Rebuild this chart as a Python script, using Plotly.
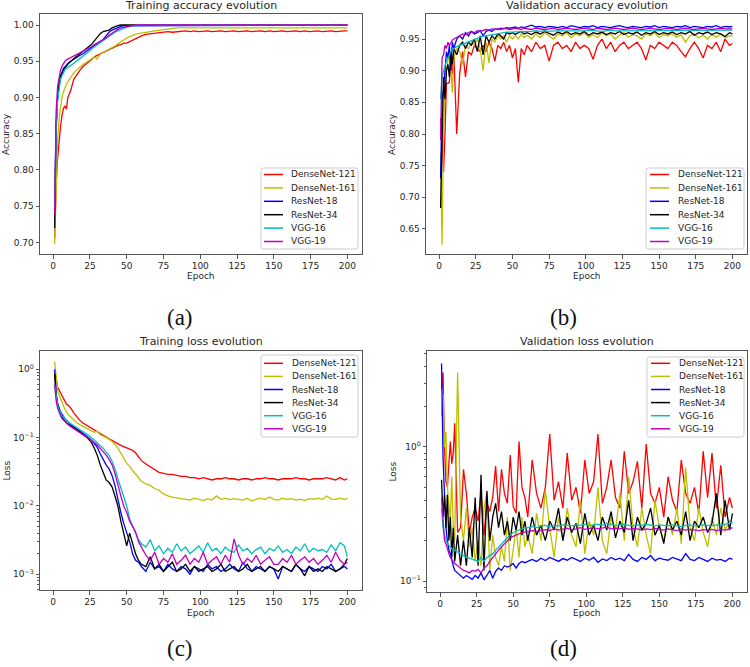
import plotly.graph_objects as go

# ---------------- data ----------------
EPOCHS = list(range(1, 11)) + list(range(12, 61, 2)) + list(range(63, 199, 3)) + [200]
MODELS = ["DenseNet-121", "DenseNet-161", "ResNet-18", "ResNet-34", "VGG-16", "VGG-19"]
COLORS = ["#ff0000", "#bfbf00", "#0000ff", "#000000", "#00bfbf", "#bf00bf"]
X_TICKS = [0, 25, 50, 75, 100, 125, 150, 175, 200]

# (a) training accuracy
TA_D121 = [0.705, 0.78, 0.815, 0.84, 0.86, 0.875, 0.885, 0.888, 0.884, 0.90,
           0.91, 0.925, 0.932, 0.937, 0.942, 0.946, 0.949, 0.952, 0.956, 0.958,
           0.960, 0.963, 0.965, 0.967, 0.968, 0.970, 0.972, 0.973, 0.975, 0.975,
           0.977, 0.979, 0.981, 0.984, 0.985,
           0.987, 0.988, 0.989, 0.989, 0.990, 0.991, 0.990, 0.991, 0.991, 0.992,
           0.991, 0.992, 0.991, 0.992, 0.992, 0.991, 0.992, 0.992, 0.991, 0.992,
           0.992, 0.991, 0.992, 0.992, 0.991, 0.992, 0.992, 0.991, 0.992, 0.991,
           0.992, 0.992, 0.991, 0.992, 0.992, 0.991, 0.992, 0.991, 0.992, 0.992,
           0.991, 0.992, 0.992, 0.991, 0.992, 0.992,
           0.992]
TA_D161 = [0.698, 0.78, 0.84, 0.87, 0.888, 0.90, 0.908, 0.914, 0.918, 0.922,
           0.928, 0.934, 0.938, 0.942, 0.945, 0.948, 0.950, 0.953, 0.956, 0.953,
           0.960, 0.962, 0.964, 0.966, 0.968, 0.971, 0.974, 0.977, 0.980, 0.982,
           0.984, 0.986, 0.987, 0.988, 0.989,
           0.990, 0.991, 0.992, 0.993, 0.994, 0.995, 0.995, 0.996, 0.996, 0.996,
           0.996, 0.996, 0.996, 0.996, 0.996, 0.996, 0.996, 0.996, 0.996, 0.996,
           0.996, 0.996, 0.996, 0.996, 0.996, 0.996, 0.996, 0.996, 0.996, 0.996,
           0.996, 0.996, 0.996, 0.996, 0.996, 0.996, 0.996, 0.996, 0.996, 0.996,
           0.996, 0.996, 0.996, 0.996, 0.996, 0.996,
           0.996]
TA_R18 = [0.75, 0.86, 0.90, 0.92, 0.93, 0.935, 0.94, 0.942, 0.945, 0.947,
          0.950, 0.953, 0.956, 0.958, 0.960, 0.963, 0.966, 0.968, 0.971, 0.974,
          0.977, 0.980, 0.985, 0.990, 0.993, 0.995, 0.997, 0.998, 0.999, 0.999,
          1.0, 1.0, 1.0, 1.0, 1.0,
          1.0, 1.0, 1.0, 1.0, 1.0, 1.0, 1.0, 1.0, 1.0, 1.0,
          1.0, 1.0, 1.0, 1.0, 1.0, 1.0, 1.0, 1.0, 1.0, 1.0,
          1.0, 1.0, 1.0, 1.0, 1.0, 1.0, 1.0, 1.0, 1.0, 1.0,
          1.0, 1.0, 1.0, 1.0, 1.0, 1.0, 1.0, 1.0, 1.0, 1.0,
          1.0, 1.0, 1.0, 1.0, 1.0, 1.0,
          1.0]
TA_R34 = [0.72, 0.86, 0.90, 0.92, 0.928, 0.934, 0.938, 0.941, 0.944, 0.946,
          0.950, 0.954, 0.957, 0.960, 0.963, 0.966, 0.969, 0.973, 0.978, 0.983,
          0.988, 0.991, 0.992, 0.993, 0.996, 0.998, 0.999, 1.0, 1.0, 1.0,
          1.0, 1.0, 1.0, 1.0, 1.0,
          1.0, 1.0, 1.0, 1.0, 1.0, 1.0, 1.0, 1.0, 1.0, 1.0,
          1.0, 1.0, 1.0, 1.0, 1.0, 1.0, 1.0, 1.0, 1.0, 1.0,
          1.0, 1.0, 1.0, 1.0, 1.0, 1.0, 1.0, 1.0, 1.0, 1.0,
          1.0, 1.0, 1.0, 1.0, 1.0, 1.0, 1.0, 1.0, 1.0, 1.0,
          1.0, 1.0, 1.0, 1.0, 1.0, 1.0,
          1.0]
TA_V16 = [0.75, 0.85, 0.895, 0.915, 0.925, 0.93, 0.935, 0.938, 0.94, 0.942,
          0.944, 0.947, 0.950, 0.953, 0.956, 0.960, 0.963, 0.967, 0.970, 0.973,
          0.976, 0.979, 0.982, 0.985, 0.988, 0.990, 0.992, 0.994, 0.996, 0.997,
          0.998, 0.999, 0.999, 1.0, 1.0,
          1.0, 1.0, 1.0, 1.0, 1.0, 1.0, 1.0, 1.0, 1.0, 1.0,
          1.0, 1.0, 1.0, 1.0, 1.0, 1.0, 1.0, 1.0, 1.0, 1.0,
          1.0, 1.0, 1.0, 1.0, 1.0, 1.0, 1.0, 1.0, 1.0, 1.0,
          1.0, 1.0, 1.0, 1.0, 1.0, 1.0, 1.0, 1.0, 1.0, 1.0,
          1.0, 1.0, 1.0, 1.0, 1.0, 1.0,
          1.0]
TA_V19 = [0.74, 0.88, 0.915, 0.93, 0.938, 0.943, 0.947, 0.95, 0.952, 0.953,
          0.955, 0.958, 0.960, 0.962, 0.963, 0.965, 0.967, 0.970, 0.973, 0.975,
          0.977, 0.979, 0.982, 0.986, 0.989, 0.992, 0.994, 0.996, 0.997, 0.998,
          0.999, 0.999, 1.0, 1.0, 1.0,
          1.0, 1.0, 1.0, 1.0, 1.0, 1.0, 1.0, 1.0, 1.0, 1.0,
          1.0, 1.0, 1.0, 1.0, 1.0, 1.0, 1.0, 1.0, 1.0, 1.0,
          1.0, 1.0, 1.0, 1.0, 1.0, 1.0, 1.0, 1.0, 1.0, 1.0,
          1.0, 1.0, 1.0, 1.0, 1.0, 1.0, 1.0, 1.0, 1.0, 1.0,
          1.0, 1.0, 1.0, 1.0, 1.0, 1.0,
          1.0]

# (b) validation accuracy
VA_D121 = [0.825, 0.79, 0.74, 0.80, 0.88, 0.88, 0.882, 0.92, 0.895, 0.93,
           0.80, 0.895, 0.93, 0.89, 0.93, 0.925, 0.94, 0.935, 0.93, 0.94,
           0.93, 0.945, 0.935, 0.915, 0.94, 0.935, 0.945, 0.93, 0.94, 0.92,
           0.935, 0.882, 0.935, 0.925, 0.94,
           0.93, 0.945, 0.935, 0.94, 0.915, 0.94, 0.945, 0.935, 0.94, 0.93,
           0.945, 0.935, 0.94, 0.935, 0.918, 0.94, 0.95, 0.935, 0.945, 0.93,
           0.94, 0.945, 0.935, 0.94, 0.945, 0.935, 0.917, 0.94, 0.935, 0.945,
           0.94, 0.935, 0.945, 0.94, 0.93, 0.922, 0.935, 0.945, 0.935, 0.92,
           0.94, 0.935, 0.945, 0.93, 0.95, 0.94,
           0.943]
VA_D161 = [0.77, 0.625, 0.80, 0.87, 0.90, 0.92, 0.93, 0.91, 0.865, 0.92,
           0.935, 0.93, 0.91, 0.94, 0.935, 0.945, 0.94, 0.95, 0.935, 0.90,
           0.945, 0.912, 0.95, 0.945, 0.955, 0.95, 0.955, 0.945, 0.955, 0.95,
           0.955, 0.95, 0.958, 0.952, 0.956,
           0.95, 0.958, 0.952, 0.96, 0.955, 0.95, 0.958, 0.955, 0.96, 0.952,
           0.958, 0.955, 0.96, 0.953, 0.957, 0.952, 0.96, 0.955, 0.958, 0.95,
           0.956, 0.96, 0.953, 0.957, 0.955, 0.95, 0.958, 0.955, 0.96, 0.952,
           0.957, 0.955, 0.958, 0.953, 0.957, 0.945, 0.955, 0.958, 0.952, 0.956,
           0.95, 0.957, 0.953, 0.958, 0.952, 0.955,
           0.955]
VA_R18 = [0.73, 0.855, 0.87, 0.90, 0.93, 0.92, 0.94, 0.90, 0.945, 0.935,
          0.95, 0.955, 0.95, 0.96, 0.955, 0.962, 0.958, 0.96, 0.963, 0.955,
          0.962, 0.964, 0.962, 0.966, 0.965, 0.967, 0.966, 0.968, 0.967, 0.968,
          0.969, 0.967, 0.969, 0.968, 0.970,
          0.972, 0.969, 0.970, 0.968, 0.970, 0.969, 0.968, 0.970, 0.968, 0.971,
          0.969, 0.968, 0.970, 0.969, 0.971, 0.968, 0.970, 0.969, 0.968, 0.970,
          0.971, 0.969, 0.968, 0.970, 0.969, 0.968, 0.970, 0.969, 0.971, 0.968,
          0.970, 0.969, 0.968, 0.970, 0.969, 0.971, 0.968, 0.970, 0.969, 0.968,
          0.970, 0.969, 0.971, 0.968, 0.970, 0.969,
          0.970]
VA_R34 = [0.683, 0.79, 0.89, 0.855, 0.90, 0.91, 0.89, 0.93, 0.91, 0.935,
          0.925, 0.94, 0.945, 0.935, 0.945, 0.94, 0.95, 0.93, 0.955, 0.925,
          0.955, 0.945, 0.955, 0.95, 0.958, 0.955, 0.95, 0.96, 0.958, 0.96,
          0.957, 0.96, 0.962, 0.958, 0.96,
          0.957, 0.961, 0.958, 0.962, 0.959, 0.956, 0.961, 0.958, 0.962, 0.957,
          0.96, 0.958, 0.962, 0.956, 0.96, 0.958, 0.961, 0.957, 0.96, 0.958,
          0.962, 0.957, 0.96, 0.958, 0.961, 0.956, 0.96, 0.958, 0.962, 0.957,
          0.96, 0.958, 0.961, 0.957, 0.96, 0.958, 0.962, 0.956, 0.96, 0.958,
          0.961, 0.957, 0.96, 0.958, 0.954, 0.96,
          0.958]
VA_V16 = [0.855, 0.89, 0.90, 0.91, 0.915, 0.92, 0.925, 0.93, 0.932, 0.935,
          0.938, 0.94, 0.942, 0.944, 0.946, 0.948, 0.95, 0.952, 0.953, 0.954,
          0.955, 0.956, 0.957, 0.958, 0.959, 0.96, 0.96, 0.961, 0.961, 0.961,
          0.962, 0.961, 0.962, 0.962, 0.962,
          0.962, 0.963, 0.962, 0.963, 0.962, 0.963, 0.963, 0.962, 0.963, 0.963,
          0.962, 0.963, 0.963, 0.964, 0.963, 0.963, 0.962, 0.963, 0.964, 0.963,
          0.963, 0.964, 0.963, 0.963, 0.964, 0.963, 0.963, 0.964, 0.963, 0.964,
          0.963, 0.964, 0.964, 0.963, 0.964, 0.963, 0.964, 0.964, 0.963, 0.964,
          0.964, 0.963, 0.964, 0.964, 0.963, 0.964,
          0.964]
VA_V19 = [0.79, 0.92, 0.925, 0.94, 0.935, 0.945, 0.94, 0.945, 0.948, 0.95,
          0.952, 0.955, 0.958, 0.957, 0.96, 0.962, 0.96, 0.963, 0.962, 0.964,
          0.965, 0.964, 0.966, 0.965, 0.966, 0.965, 0.967, 0.966, 0.965, 0.966,
          0.967, 0.966, 0.965, 0.967, 0.966,
          0.965, 0.967, 0.966, 0.965, 0.966, 0.967, 0.965, 0.966, 0.967, 0.966,
          0.965, 0.966, 0.967, 0.966, 0.965, 0.967, 0.966, 0.965, 0.966, 0.967,
          0.966, 0.965, 0.966, 0.967, 0.966, 0.965, 0.966, 0.967, 0.966, 0.965,
          0.966, 0.967, 0.966, 0.965, 0.966, 0.967, 0.966, 0.965, 0.966, 0.967,
          0.966, 0.965, 0.966, 0.967, 0.966, 0.966,
          0.966]

# (c) training loss
TL_D121 = [0.9, 0.75, 0.55, 0.5, 0.45, 0.4, 0.36, 0.33, 0.31, 0.30,
           0.27, 0.23, 0.2, 0.18, 0.165, 0.155, 0.145, 0.135, 0.128, 0.12,
           0.114, 0.108, 0.102, 0.096, 0.09, 0.085, 0.081, 0.077, 0.074, 0.071,
           0.068, 0.065, 0.06, 0.052, 0.046,
           0.041, 0.037, 0.034, 0.031, 0.03, 0.029, 0.029, 0.028, 0.027, 0.027,
           0.026, 0.026, 0.025, 0.026, 0.025, 0.024, 0.025, 0.025, 0.026, 0.025,
           0.025, 0.024, 0.025, 0.025, 0.024, 0.025, 0.025, 0.026, 0.025, 0.025,
           0.024, 0.025, 0.025, 0.025, 0.026, 0.025, 0.025, 0.024, 0.025, 0.025,
           0.025, 0.026, 0.025, 0.024, 0.026, 0.024,
           0.025]
TL_D161 = [1.3, 0.7, 0.5, 0.42, 0.37, 0.32, 0.28, 0.26, 0.24, 0.22,
           0.2, 0.18, 0.165, 0.155, 0.148, 0.14, 0.133, 0.125, 0.12, 0.125,
           0.11, 0.105, 0.1, 0.095, 0.088, 0.08, 0.07, 0.06, 0.05, 0.042,
           0.038, 0.033, 0.029, 0.026, 0.023,
           0.021, 0.02, 0.018, 0.017, 0.015, 0.014, 0.0135, 0.013, 0.0128, 0.0125,
           0.0122, 0.013, 0.0125, 0.012, 0.0128, 0.0122, 0.014, 0.0125, 0.013, 0.0124,
           0.0128, 0.0125, 0.0122, 0.013, 0.0118, 0.0125, 0.013, 0.0124, 0.0135, 0.0125,
           0.0122, 0.013, 0.0125, 0.0128, 0.0122, 0.0126, 0.012, 0.0128, 0.0125, 0.013,
           0.0124, 0.014, 0.0126, 0.0125, 0.013, 0.0124,
           0.013]
TL_R18 = [1.0, 0.45, 0.32, 0.27, 0.24, 0.22, 0.2, 0.19, 0.18, 0.17,
          0.155, 0.145, 0.135, 0.125, 0.118, 0.11, 0.1, 0.092, 0.082, 0.072,
          0.058, 0.048, 0.04, 0.035, 0.028, 0.02, 0.012, 0.008, 0.0055, 0.004,
          0.003, 0.002, 0.0016, 0.0015, 0.0013,
          0.0011, 0.0015, 0.0012, 0.0013, 0.0011, 0.0014, 0.0012, 0.0011, 0.0013, 0.0012,
          0.001, 0.0013, 0.0012, 0.0011, 0.0014, 0.0012, 0.0013, 0.0011, 0.0012, 0.0014,
          0.0012, 0.0011, 0.0015, 0.0012, 0.0011, 0.0013, 0.0012, 0.0011, 0.0013, 0.0012,
          0.00085, 0.0013, 0.0012, 0.0011, 0.0014, 0.0012, 0.0011, 0.0013, 0.0012, 0.0011,
          0.0013, 0.0012, 0.0014, 0.0011, 0.0012, 0.0013,
          0.0012]
TL_R34 = [0.85, 0.42, 0.3, 0.25, 0.22, 0.2, 0.19, 0.175, 0.165, 0.16,
          0.15, 0.14, 0.13, 0.122, 0.112, 0.105, 0.095, 0.085, 0.07, 0.055,
          0.04, 0.03, 0.024, 0.022, 0.019, 0.014, 0.01, 0.006, 0.004, 0.0026,
          0.004, 0.0028, 0.002, 0.0016, 0.0014,
          0.0013, 0.0018, 0.0012, 0.0014, 0.0011, 0.0013, 0.0015, 0.0011, 0.0012, 0.0014,
          0.0011, 0.0013, 0.0011, 0.0012, 0.0013, 0.0011, 0.0012, 0.0014, 0.0011, 0.0012,
          0.0013, 0.0011, 0.0012, 0.0014, 0.0011, 0.0012, 0.0013, 0.0011, 0.0013, 0.0012,
          0.0011, 0.0013, 0.0012, 0.0011, 0.0014, 0.0012, 0.00095, 0.0013, 0.0011, 0.0012,
          0.0011, 0.0013, 0.0012, 0.0011, 0.0012, 0.0014,
          0.0017]
TL_V16 = [0.6, 0.4, 0.3, 0.26, 0.23, 0.21, 0.2, 0.185, 0.175, 0.17,
          0.16, 0.15, 0.14, 0.13, 0.122, 0.115, 0.108, 0.1, 0.092, 0.085,
          0.078, 0.07, 0.062, 0.055, 0.045, 0.035, 0.025, 0.018, 0.014, 0.01,
          0.0065, 0.005, 0.004, 0.0032, 0.0028,
          0.0025, 0.0032, 0.0022, 0.0026, 0.002, 0.0024, 0.0021, 0.0028, 0.0022, 0.0025,
          0.002, 0.0023, 0.0026, 0.0021, 0.0029, 0.0022, 0.0024, 0.002, 0.0025, 0.0022,
          0.0021, 0.0027, 0.0022, 0.0024, 0.002, 0.0023, 0.0025, 0.002, 0.0024, 0.0022,
          0.0026, 0.0021, 0.0023, 0.002, 0.0025, 0.0022, 0.0028, 0.0021, 0.0024, 0.0022,
          0.0023, 0.0021, 0.0027, 0.0022, 0.0029, 0.0026,
          0.0018]
TL_V19 = [0.6, 0.35, 0.27, 0.23, 0.21, 0.19, 0.18, 0.17, 0.16, 0.155,
          0.145, 0.135, 0.125, 0.118, 0.11, 0.104, 0.098, 0.092, 0.085, 0.078,
          0.07, 0.062, 0.056, 0.048, 0.04, 0.03, 0.02, 0.014, 0.01, 0.008,
          0.006, 0.005, 0.0042, 0.003, 0.0025,
          0.0019, 0.0016, 0.0021, 0.0014, 0.0017, 0.0015, 0.002, 0.0014, 0.0016, 0.0019,
          0.0014, 0.0017, 0.0015, 0.0021, 0.0014, 0.0016, 0.0018, 0.0014, 0.0019, 0.0015,
          0.0033, 0.0019, 0.0014, 0.0017, 0.0015, 0.0019, 0.0014, 0.0016, 0.0018, 0.0014,
          0.0014, 0.0017, 0.0015, 0.0019, 0.0014, 0.0016, 0.0018, 0.0015, 0.0017, 0.0014,
          0.0016, 0.0019, 0.0015, 0.0021, 0.0016, 0.0014,
          0.0015]

# (d) validation loss
VL_D121 = [2.7, 3.6, 1.0, 0.55, 0.5, 0.8, 1.1, 0.75, 0.9, 1.5,
           0.23, 0.25, 0.68, 0.45, 0.23, 0.3, 0.35, 0.28, 0.46, 0.22,
           0.38, 0.33, 0.42, 0.72, 0.33, 0.68, 0.45, 0.38, 0.87, 0.36,
           0.32, 1.1, 0.5, 0.42, 0.3,
           0.8, 0.45, 0.35, 0.5, 1.25, 0.4, 0.55, 0.35, 0.9, 0.4,
           0.5, 0.32, 0.8, 0.45, 0.55, 1.25, 0.38, 0.5, 0.8, 0.42,
           0.35, 0.93, 0.45, 0.55, 0.78, 0.35, 1.05, 0.45, 0.38, 0.5,
           0.3, 0.6, 0.4, 0.33, 0.8, 0.45, 0.38, 0.5, 0.32, 0.93,
           0.42, 0.9, 0.35, 0.73, 0.3, 0.42,
           0.35]
VL_D161 = [1.7, 2.5, 1.0, 1.3, 0.5, 0.35, 0.28, 0.6, 0.25, 0.2,
           3.6, 0.3, 0.2, 0.35, 0.18, 0.25, 0.14, 0.2, 0.13, 0.35,
           0.45, 0.12, 0.22, 0.15, 0.13, 0.18, 0.14, 0.3, 0.12, 0.17,
           0.25, 0.15, 0.3, 0.18, 0.22,
           0.16, 0.32, 0.2, 0.48, 0.25, 0.15, 0.3, 0.2, 0.35, 0.22,
           0.18, 0.4, 0.16, 0.28, 0.22, 0.5, 0.2, 0.16, 0.3, 0.24,
           0.45, 0.2, 0.6, 0.25, 0.18, 0.35, 0.22, 0.16, 0.4, 0.25,
           0.2, 0.3, 0.22, 0.35, 0.19, 0.7, 0.25, 0.2, 0.35, 0.23,
           0.18, 0.3, 0.22, 0.35, 0.24, 0.28,
           0.27]
VL_R18 = [4.2, 0.85, 0.45, 0.25, 0.2, 0.17, 0.16, 0.14, 0.13, 0.12,
          0.115, 0.11, 0.105, 0.11, 0.107, 0.103, 0.11, 0.105, 0.115, 0.102,
          0.11, 0.12, 0.105, 0.118, 0.125, 0.12, 0.13, 0.127, 0.13, 0.135,
          0.125, 0.135, 0.14, 0.137, 0.14,
          0.145, 0.14, 0.148, 0.142, 0.15, 0.145, 0.14, 0.147, 0.143, 0.15,
          0.145, 0.14, 0.148, 0.143, 0.15, 0.138, 0.146, 0.142, 0.15, 0.144,
          0.148, 0.142, 0.158, 0.145, 0.14, 0.15, 0.145, 0.155, 0.142, 0.148,
          0.145, 0.143, 0.15, 0.146, 0.142, 0.16, 0.145, 0.142, 0.15, 0.145,
          0.14, 0.148, 0.143, 0.145, 0.14, 0.148,
          0.145]
VL_R34 = [0.57, 0.3, 0.44, 0.25, 0.44, 0.2, 0.3, 0.15, 0.25, 0.14,
          0.22, 0.13, 0.2, 0.13, 0.25, 0.15, 0.42, 0.13, 0.62, 0.12,
          0.47, 0.2, 0.3, 0.38, 0.25, 0.33, 0.22, 0.28, 0.2, 0.3,
          0.24, 0.33, 0.22, 0.28, 0.2,
          0.3, 0.22, 0.26, 0.2, 0.28, 0.24, 0.35, 0.2, 0.3, 0.23,
          0.27, 0.19, 0.32, 0.22, 0.26, 0.2, 0.3, 0.24, 0.33, 0.21,
          0.28, 0.23, 0.4, 0.2, 0.3, 0.24, 0.27, 0.35, 0.22, 0.26,
          0.19, 0.3, 0.24, 0.28, 0.22, 0.33, 0.2, 0.28, 0.25, 0.3,
          0.23, 0.27, 0.45, 0.22, 0.4, 0.24,
          0.32]
VL_V16 = [0.35, 0.25, 0.22, 0.2, 0.19, 0.185, 0.18, 0.175, 0.17, 0.17,
          0.165, 0.16, 0.155, 0.15, 0.148, 0.145, 0.143, 0.14, 0.15, 0.14,
          0.15, 0.155, 0.16, 0.17, 0.18, 0.19, 0.2, 0.21, 0.22, 0.23,
          0.235, 0.24, 0.245, 0.25, 0.25,
          0.255, 0.25, 0.258, 0.26, 0.255, 0.26, 0.258, 0.262, 0.26, 0.258,
          0.262, 0.26, 0.265, 0.258, 0.262, 0.265, 0.26, 0.27, 0.265, 0.26,
          0.262, 0.265, 0.26, 0.258, 0.262, 0.26, 0.265, 0.262, 0.258, 0.262,
          0.26, 0.258, 0.262, 0.26, 0.255, 0.26, 0.262, 0.258, 0.26, 0.262,
          0.26, 0.258, 0.262, 0.26, 0.265, 0.27,
          0.275]
VL_V19 = [0.42, 0.3, 0.2, 0.19, 0.17, 0.16, 0.15, 0.145, 0.14, 0.135,
          0.13, 0.125, 0.12, 0.118, 0.115, 0.12, 0.118, 0.122, 0.115, 0.125,
          0.13, 0.14, 0.15, 0.16, 0.17, 0.18, 0.19, 0.2, 0.21, 0.215,
          0.22, 0.225, 0.23, 0.232, 0.235,
          0.238, 0.235, 0.24, 0.242, 0.238, 0.245, 0.24, 0.243, 0.248, 0.24,
          0.245, 0.25, 0.243, 0.247, 0.25, 0.245, 0.248, 0.252, 0.245, 0.248,
          0.245, 0.25, 0.243, 0.247, 0.245, 0.24, 0.245, 0.242, 0.247, 0.243,
          0.24, 0.245, 0.242, 0.238, 0.245, 0.24, 0.243, 0.24, 0.238, 0.242,
          0.24, 0.243, 0.238, 0.242, 0.24, 0.245,
          0.25]

PANEL_TITLES = ["Training accuracy evolution", "Validation accuracy evolution",
                "Training loss evolution", "Validation loss evolution"]
PANEL_TAGS = ["(a)", "(b)", "(c)", "(d)"]
Y_LABELS = ["Accuracy", "Accuracy", "Loss", "Loss"]
ACC_A_TICKS = [0.70, 0.75, 0.80, 0.85, 0.90, 0.95, 1.00]
ACC_B_TICKS = [0.65, 0.70, 0.75, 0.80, 0.85, 0.90, 0.95]
LOSS_C_TICKS = [1, 0.1, 0.01, 0.001]
LOSS_C_TEXT = ["10<sup>0</sup>", "10<sup>\u22121</sup>", "10<sup>\u22122</sup>", "10<sup>\u22123</sup>"]
LOSS_D_TICKS = [1, 0.1]
LOSS_D_TEXT = ["10<sup>0</sup>", "10<sup>\u22121</sup>"]

SERIES = [
    [TA_D121, TA_D161, TA_R18, TA_R34, TA_V16, TA_V19],
    [VA_D121, VA_D161, VA_R18, VA_R34, VA_V16, VA_V19],
    [TL_D121, TL_D161, TL_R18, TL_R34, TL_V16, TL_V19],
    [VL_D121, VL_D161, VL_R18, VL_R34, VL_V16, VL_V19],
]
for grp in SERIES:
    for s in grp:
        assert len(s) == len(EPOCHS), (len(s), len(EPOCHS))

# ---------------- layout helpers (pixel -> paper) ----------------
W, H = 750, 667
def px(x):
    return x / W
def py(y):
    return 1 - y / H

FONT = "DejaVu Sans"
TXT = "#262626"
AXC = "#555555"

# frame boxes in pixels: x0, x1, y_top, y_bottom
BOXES = [(40, 362, 14, 254), (426, 747, 14, 254), (40, 362, 351, 590), (427, 747, 351, 592)]
YRANGES = [[0.684, 1.0152], [0.6105, 0.9895], [-3.23, 0.2675], [-1.082, 0.716]]
LEGENDS = [  # box x0,y0,x1,y1 ; line x0,x1 ; text x ; first row y ; row step
    dict(box=(261, 168, 358, 249), lx=(264, 283), tx=289, ry=174.5, st=13.4),
    dict(box=(646, 168, 744, 249), lx=(650, 669), tx=676, ry=174.5, st=13.4),
    dict(box=(261, 355, 358, 437), lx=(264, 283), tx=290, ry=363.3, st=13.1),
    dict(box=(647, 357, 744, 437), lx=(651, 670), tx=677, ry=363.3, st=13.1),
]

fig = go.Figure()
layout = dict(width=W, height=H, margin=dict(l=0, r=0, t=0, b=0),
              paper_bgcolor="white", plot_bgcolor="white", showlegend=False,
              font=dict(family=FONT, size=9, color=TXT))
annotations = []
shapes = []

def minor_vals(lo_exp, hi_exp):
    vals = []
    for e in range(lo_exp, hi_exp + 1):
        for m in [2, 3, 4, 5, 6, 7, 8, 9]:
            vals.append(m * 10 ** e)
    return vals

for i in range(4):
    n = "" if i == 0 else str(i + 1)
    x0, x1, yt, yb = BOXES[i]
    xa = dict(domain=[px(x0), px(x1)], range=[-8.95, 209.95], anchor="y" + n,
              showgrid=False, zeroline=False, showline=True, mirror=True,
              linecolor=AXC, linewidth=1, ticks="outside", ticklen=3.5,
              tickcolor=AXC, tickwidth=1, tickvals=X_TICKS,
              tickfont=dict(family=FONT, size=9, color=TXT))
    ya = dict(domain=[py(yb), py(yt)], range=YRANGES[i], anchor="x" + n,
              showgrid=False, zeroline=False, showline=True, mirror=True,
              linecolor=AXC, linewidth=1, ticks="outside", ticklen=3.5,
              tickcolor=AXC, tickwidth=1,
              tickfont=dict(family=FONT, size=9, color=TXT))
    if i == 0:
        ya.update(tickvals=ACC_A_TICKS, tickformat=".2f")
    elif i == 1:
        ya.update(tickvals=ACC_B_TICKS, tickformat=".2f")
    elif i == 2:
        ya.update(type="log", tickvals=LOSS_C_TICKS, ticktext=LOSS_C_TEXT,
                  minor=dict(tickvals=minor_vals(-4, 0), ticks="outside", ticklen=2,
                             tickcolor=AXC, tickwidth=1, showgrid=False))
    else:
        ya.update(type="log", tickvals=LOSS_D_TICKS, ticktext=LOSS_D_TEXT,
                  minor=dict(tickvals=minor_vals(-2, 0), ticks="outside", ticklen=2,
                             tickcolor=AXC, tickwidth=1, showgrid=False))
    layout["xaxis" + n] = xa
    layout["yaxis" + n] = ya

    for k in range(6):
        fig.add_trace(go.Scatter(x=EPOCHS, y=SERIES[i][k], mode="lines", name=MODELS[k],
                                 line=dict(color=COLORS[k], width=1.3),
                                 xaxis="x" + n, yaxis="y" + n, showlegend=False))

    cx = (x0 + x1) / 2
    ty = 5 if i < 2 else 341.7
    annotations.append(dict(text=PANEL_TITLES[i], x=px(cx), y=py(ty), xref="paper", yref="paper",
                            showarrow=False, xanchor="center", yanchor="middle",
                            font=dict(family=FONT, size=11, color=TXT)))
    ey = 276 if i < 2 else 613
    annotations.append(dict(text="Epoch", x=px(cx), y=py(ey), xref="paper", yref="paper",
                            showarrow=False, xanchor="center", yanchor="middle",
                            font=dict(family=FONT, size=9, color=TXT)))
    lx = 6 if i % 2 == 0 else 392
    annotations.append(dict(text=Y_LABELS[i], x=px(lx), y=py((yt + yb) / 2), xref="paper",
                            yref="paper", showarrow=False, textangle=-90,
                            xanchor="center", yanchor="middle",
                            font=dict(family=FONT, size=9, color=TXT)))
    tagx = 180 if i % 2 == 0 else 563
    tagy = 318 if i < 2 else 648
    annotations.append(dict(text=PANEL_TAGS[i], x=px(tagx), y=py(tagy), xref="paper",
                            yref="paper", showarrow=False, xanchor="center", yanchor="middle",
                            font=dict(family="Liberation Serif", size=23, color="#111")))

    # legend
    L = LEGENDS[i]
    bx0, by0, bx1, by1 = L["box"]
    r = 2.5
    path = (f"M {px(bx0 + r)},{py(by0)} L {px(bx1 - r)},{py(by0)} "
            f"Q {px(bx1)},{py(by0)} {px(bx1)},{py(by0 + r)} L {px(bx1)},{py(by1 - r)} "
            f"Q {px(bx1)},{py(by1)} {px(bx1 - r)},{py(by1)} L {px(bx0 + r)},{py(by1)} "
            f"Q {px(bx0)},{py(by1)} {px(bx0)},{py(by1 - r)} L {px(bx0)},{py(by0 + r)} "
            f"Q {px(bx0)},{py(by0)} {px(bx0 + r)},{py(by0)} Z")
    shapes.append(dict(type="path", path=path, xref="paper", yref="paper",
                       fillcolor="rgba(255,255,255,0.9)", line=dict(color="#cccccc", width=1),
                       layer="above"))
    for k in range(6):
        yy = L["ry"] + k * L["st"]
        shapes.append(dict(type="line", xref="paper", yref="paper",
                           x0=px(L["lx"][0]), x1=px(L["lx"][1]), y0=py(yy), y1=py(yy),
                           line=dict(color=COLORS[k], width=1.5), layer="above"))
        annotations.append(dict(text=MODELS[k], x=px(L["tx"]), y=py(yy), xref="paper",
                                yref="paper", showarrow=False, xanchor="left",
                                yanchor="middle", font=dict(family=FONT, size=9, color=TXT)))

layout["annotations"] = annotations
layout["shapes"] = shapes
fig.update_layout(**layout)
fig.write_html("out.html", config={"displayModeBar": False},
               post_script="document.body.style.margin='0px';document.body.style.overflow='hidden';")
